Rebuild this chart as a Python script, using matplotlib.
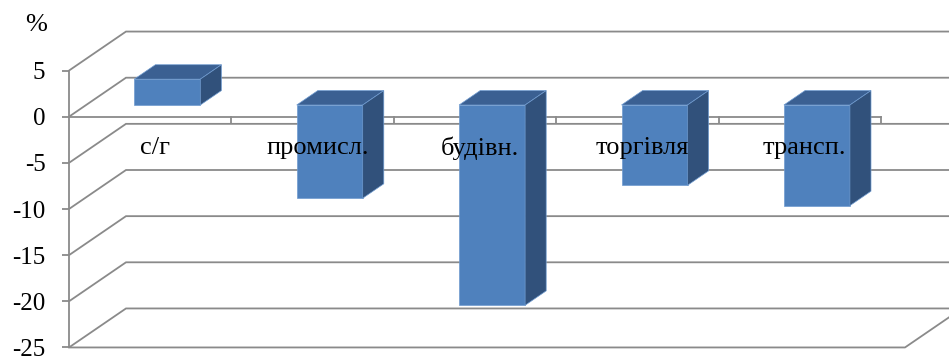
import matplotlib
matplotlib.use('Agg')
import matplotlib.pyplot as plt
from matplotlib.patches import Polygon

categories = ['с/г', 'промисл.', 'будівн.', 'торгівля', 'трансп.']
values = [2.8, -10.1, -21.7, -8.7, -10.9]
y_ticks = [5, 0, -5, -10, -15, -20, -25]
y_unit = '%'

plt.rcParams['font.family'] = ['Liberation Serif', 'DejaVu Serif']

W, H = 949, 356
fig = plt.figure(figsize=(W / 100, H / 100), dpi=100)
ax = fig.add_axes([0, 0, 1, 1])
px_cat, x0px = 162.4, 69.0
px_val, y0px = 9.23, 116.7
ax.set_xlim(-x0px / px_cat, (W - x0px) / px_cat)
ax.set_ylim((y0px - H) / px_val, y0px / px_val)

DX = 57 / px_cat   # full depth offset (x)
DY = 39 / px_val   # full depth offset (y)
vmin, vmax = min(y_ticks), max(y_ticks)
n = len(categories)
grid = '#8a8a8a'
lw = 1.3

# side + back wall gridlines
for v in y_ticks:
    ax.plot([0, DX, 10], [v, v + DY, v + DY], color=grid, lw=lw, zorder=1,
            solid_capstyle='butt', solid_joinstyle='miter')
# floor front edge and right side
fr = n + 24 / px_cat
ax.plot([0, fr, fr + DX], [vmin, vmin, vmin + DY], color=grid, lw=lw, zorder=1)
# category axis
ax.plot([0, n], [0, 0], color=grid, lw=lw, zorder=1)
for i in range(1, n + 1):
    ax.plot([i, i], [0, -6 / px_val], color=grid, lw=lw, zorder=1)

# value axis
for s in ['top', 'right', 'bottom']:
    ax.spines[s].set_visible(False)
ax.spines['left'].set_position(('data', 0))
ax.spines['left'].set_bounds(vmin, vmax)
ax.spines['left'].set_color(grid)
ax.spines['left'].set_linewidth(lw)
ax.set_yticks(y_ticks)
ax.set_yticklabels([str(t) for t in y_ticks])
ax.tick_params(axis='y', direction='out', length=5, width=lw, color=grid,
               labelsize=18, pad=12)
ax.set_xticks([])

# bars
front_c, top_c, side_c = '#4F81BD', '#3B6092', '#31517B'
fd, bd = 0.30, 0.37
ox, oy = fd * DX, fd * DY
bdx, bdy = bd * DX, bd * DY
bw = 66 / px_cat
for i, v in enumerate(values):
    cx = i + 0.5 + ox
    l, r = cx - bw / 2, cx + bw / 2
    top, bot = max(v, 0) + oy, min(v, 0) + oy
    edge = dict(edgecolor='#6f9bd0', linewidth=0.5, zorder=3)
    ax.add_patch(Polygon([(l, bot), (r, bot), (r, top), (l, top)], closed=True,
                         facecolor=front_c, **edge))
    ax.add_patch(Polygon([(l, top), (r, top), (r + bdx, top + bdy), (l + bdx, top + bdy)],
                         closed=True, facecolor=top_c, **edge))
    ax.add_patch(Polygon([(r, bot), (r, top), (r + bdx, top + bdy), (r + bdx, bot + bdy)],
                         closed=True, facecolor=side_c, **edge))

# category labels
for i, c in enumerate(categories):
    ax.text(i + 0.5 + 0.03, -3.4, c, ha='center', va='center', fontsize=19, zorder=5)

ax.text(-0.205, 9.9, y_unit, ha='center', va='center', fontsize=19, zorder=5)

fig.savefig('out.png', dpi=100)
